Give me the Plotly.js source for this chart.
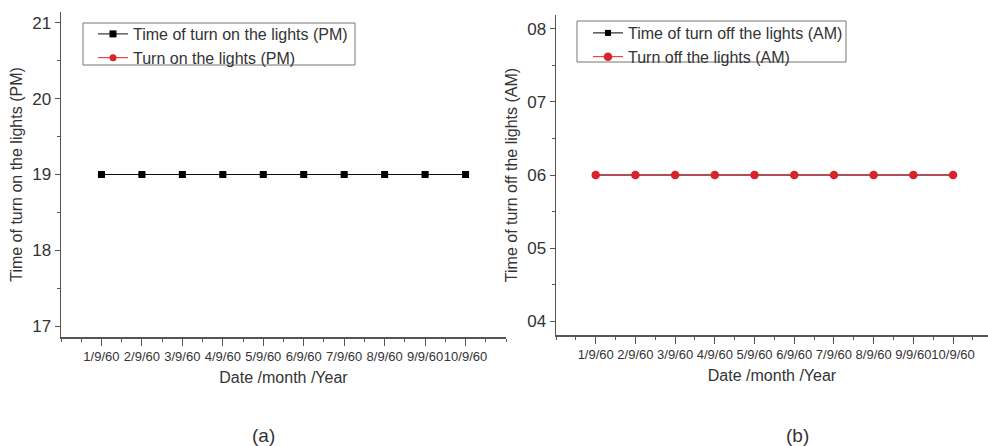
<!DOCTYPE html>
<html>
<head>
<meta charset="utf-8">
<script src="https://cdn.plot.ly/plotly-3.0.1.min.js"></script>
<style>html,body{margin:0;padding:0;background:#fff;}#chart{width:988px;height:446px;}</style>
</head>
<body>
<div id="chart"></div>
<script>
// ---- data ----
const dates = ['1/9/60','2/9/60','3/9/60','4/9/60','5/9/60','6/9/60','7/9/60','8/9/60','9/9/60','10/9/60'];
const dayOfMonth = dates.map(d => Number(d.split('/')[0]));
const onTime  = [19,19,19,19,19,19,19,19,19,19];   // black series (a)
const onLights = [19,19,19,19,19,19,19,19,19,19];  // red series (a)
const offTime = [6,6,6,6,6,6,6,6,6,6];             // black series (b)
const offLights = [6,6,6,6,6,6,6,6,6,6];           // red series (b)
const yTicksA = [17,18,19,20,21];
const yTicksB = [4,5,6,7,8];
const yTickTextB = ['04','05','06','07','08'];

const FONT = 'Liberation Sans, Arial, sans-serif';
const TXT = '#333';
const AX = '#555';
const RED = '#d9232b';

const traces = [
  // panel (a): red first so black sits on top; legend reversed
  {x: dayOfMonth, y: onLights, name: 'Turn on the lights (PM)', mode: 'lines+markers',
   line: {color: RED, width: 1}, marker: {color: RED, symbol: 'circle', size: 7},
   xaxis: 'x', yaxis: 'y', legend: 'legend'},
  {x: dayOfMonth, y: onTime, name: 'Time of turn on the lights (PM)', mode: 'lines+markers',
   line: {color: '#1a0a0a', width: 1}, marker: {color: '#000', symbol: 'square', size: 7},
   xaxis: 'x', yaxis: 'y', legend: 'legend'},
  // panel (b): black first, red on top
  {x: dayOfMonth, y: offTime, name: 'Time of turn off the lights (AM)', mode: 'lines+markers',
   line: {color: '#000', width: 1}, marker: {color: '#000', symbol: 'square', size: 6},
   xaxis: 'x2', yaxis: 'y2', legend: 'legend2'},
  {x: dayOfMonth, y: offLights, name: 'Turn off the lights (AM)', mode: 'lines+markers',
   line: {color: RED, width: 1}, marker: {color: RED, symbol: 'circle', size: 8.5},
   xaxis: 'x2', yaxis: 'y2', legend: 'legend2'}
];

function xAxis(domain, range, anchor) {
  return {
    domain: domain, range: range, anchor: anchor,
    tickvals: dayOfMonth, ticktext: dates, tickangle: 0,
    ticks: 'outside', ticklen: 7, tickwidth: 1, tickcolor: AX,
    minor: {dtick: 0.5, tick0: 0, ticks: 'outside', ticklen: 3, tickcolor: AX, showgrid: false},
    showline: true, linecolor: AX, linewidth: 1.5, mirror: false,
    showgrid: false, zeroline: false,
    tickfont: {family: FONT, size: 13, color: TXT},
    title: {text: 'Date /month /Year', font: {family: FONT, size: 16, color: TXT}, standoff: 8},
    automargin: false
  };
}
function yAxis(domain, range, anchor, tv, tt, title) {
  return {
    domain: domain, range: range, anchor: anchor,
    tickvals: tv, ticktext: tt,
    ticks: 'outside', ticklen: 5, tickwidth: 1, tickcolor: AX,
    minor: {dtick: 0.5, tick0: 0, ticks: 'outside', ticklen: 3, tickcolor: AX, showgrid: false},
    showline: true, linecolor: AX, linewidth: 1.5, mirror: false,
    showgrid: false, zeroline: false,
    tickfont: {family: FONT, size: 17, color: TXT},
    title: {text: title, font: {family: FONT, size: 16, color: TXT}, standoff: 5},
    automargin: false
  };
}

const legendBase = {
  xanchor: 'left', yanchor: 'top',
  bgcolor: 'rgba(255,255,255,0)', borderwidth: 0,
  font: {family: FONT, size: 16, color: TXT}, itemwidth: 30, tracegroupgap: 0
};

const layout = {
  width: 988, height: 446,
  margin: {l: 0, r: 0, t: 0, b: 0},
  paper_bgcolor: '#fff', plot_bgcolor: '#fff',
  showlegend: true,
  xaxis: xAxis([61/988, 506/988], [0, 11], 'y'),
  yaxis: yAxis([1-337/446, 1-12/446], [16.855, 21.145], 'x', yTicksA, yTicksA.map(String), 'Time of turn on the lights (PM)'),
  xaxis2: xAxis([556/988, 1], [0, 10.88], 'y2'),
  yaxis2: yAxis([1-335/446, 1-15/446], [3.81, 8.19], 'x2', yTicksB, yTickTextB, 'Time of turn off the lights (AM)'),
  legend: Object.assign({}, legendBase, {x: 93/988, y: 1-17/446, traceorder: 'reversed'}),
  legend2: Object.assign({}, legendBase, {x: 588/988, y: 1-16/446, traceorder: 'normal'}),
  shapes: [
    {type: 'rect', xref: 'paper', yref: 'paper', x0: 83/988, x1: 355/988, y0: 1-65/446, y1: 1-23/446,
     line: {color: '#777', width: 1}, fillcolor: 'rgba(0,0,0,0)'},
    {type: 'rect', xref: 'paper', yref: 'paper', x0: 577/988, x1: 846/988, y0: 1-62/446, y1: 1-21/446,
     line: {color: '#777', width: 1}, fillcolor: 'rgba(0,0,0,0)'}
  ],
  annotations: [
    {text: '(a)', x: 263/988, y: 1-435/446, xref: 'paper', yref: 'paper', showarrow: false,
     xanchor: 'center', yanchor: 'middle', font: {family: FONT, size: 19, color: TXT}},
    {text: '(b)', x: 797/988, y: 1-435/446, xref: 'paper', yref: 'paper', showarrow: false,
     xanchor: 'center', yanchor: 'middle', font: {family: FONT, size: 19, color: TXT}}
  ]
};

Plotly.newPlot('chart', traces, layout, {displayModeBar: false, staticPlot: true});
</script>
</body>
</html>
